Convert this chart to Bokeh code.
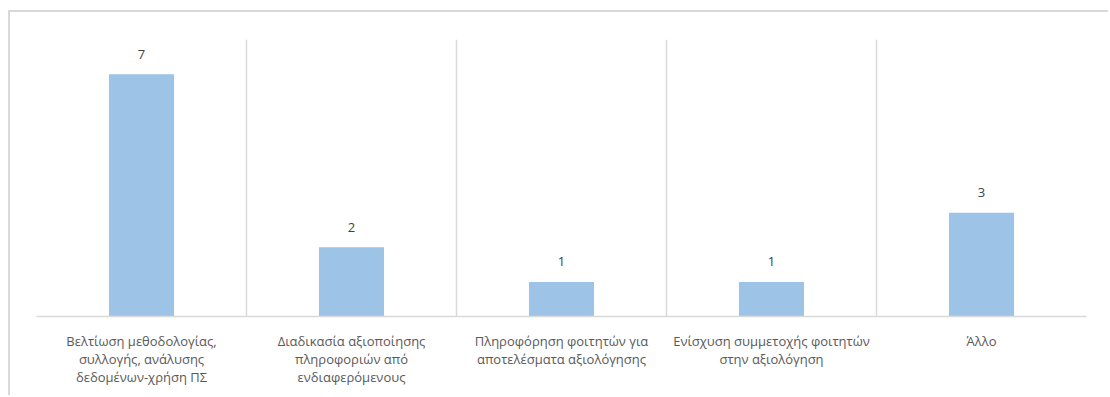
from bokeh.plotting import figure
from bokeh.models import ColumnDataSource, FixedTicker, Range1d
from bokeh.embed import file_html
from bokeh.resources import INLINE
from bokeh.core.properties import value

categories = [
    "Βελτίωση μεθοδολογίας,\nσυλλογής, ανάλυσης\nδεδομένων-χρήση ΠΣ",
    "Διαδικασία αξιοποίησης\nπληροφοριών από\nενδιαφερόμενους",
    "Πληροφόρηση φοιτητών για\nαποτελέσματα αξιολόγησης",
    "Ενίσχυση συμμετοχής φοιτητών\nστην αξιολόγηση",
    "Άλλο",
]
values = [7, 2, 1, 1, 3]

xs = list(range(1, len(categories) + 1))
src = ColumnDataSource(dict(x=xs, v=values, lbl=[str(v) for v in values]))

p = figure(width=1100, height=385, output_backend="svg", toolbar_location=None,
           x_range=Range1d(0.5, len(categories) + 0.5), y_range=Range1d(0, 8),
           min_border_left=26, min_border_top=27, min_border_right=24, min_border_bottom=81)
p.styles = {"margin-left": "8px", "margin-top": "10px",
            "border-top": "2px solid #d9d9d9", "border-left": "2px solid #d9d9d9"}
p.outline_line_color = None
p.background_fill_color = "white"
p.border_fill_color = "white"

p.vbar(x="x", top="v", width=0.31, source=src, color="#9DC3E6", line_color=None)
p.text(x="x", y="v", text="lbl", source=src, text_align="center", text_baseline="alphabetic",
       y_offset=-20, text_font=value("Open Sans"), text_font_size="13px", text_color="#404040")

p.yaxis.visible = False
p.ygrid.visible = False
p.xgrid.ticker = FixedTicker(ticks=[i + 0.5 for i in range(0, len(categories) + 1)])
p.xgrid.grid_line_color = "#d9d9d9"
p.xgrid.grid_line_width = 1.5

ax = p.xaxis[0]
ax.ticker = FixedTicker(ticks=xs)
ax.major_label_overrides = {x: c for x, c in zip(xs, categories)}
ax.major_tick_line_color = None
ax.minor_tick_line_color = None
ax.axis_line_color = "#d9d9d9"
ax.axis_line_width = 1.5
ax.major_label_text_font = "Open Sans"
ax.major_label_text_font_size = "13px"
ax.major_label_text_color = "#595959"
ax.major_label_text_line_height = 1.0
ax.major_label_standoff = 9

open("out.html", "w").write(file_html(p, INLINE))
